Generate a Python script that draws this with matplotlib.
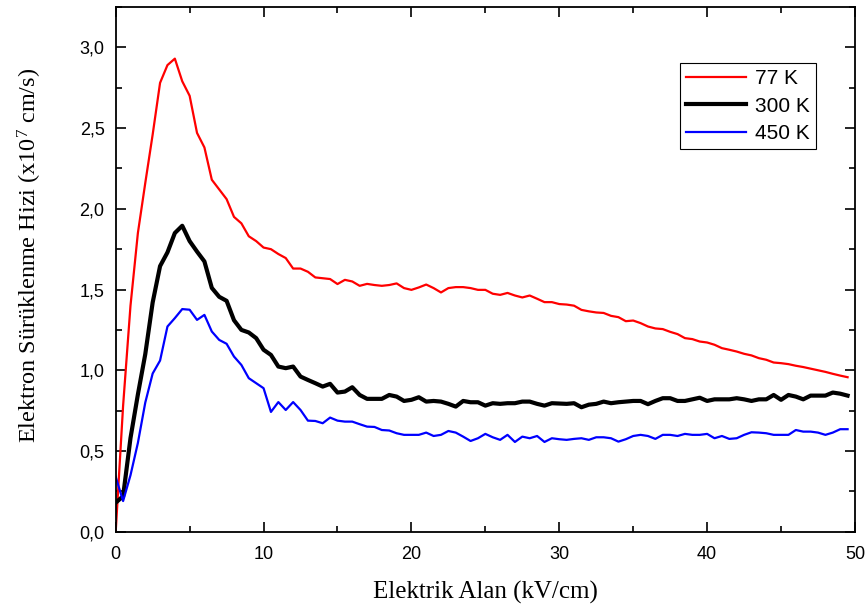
import matplotlib
matplotlib.use('Agg')
import matplotlib.pyplot as plt
from matplotlib.ticker import MultipleLocator, FuncFormatter
import numpy as np

# electric field grid (kV/cm), one sample every 0.5
field = np.arange(0, 50, 0.5)

v_77 = [
    0.00, 0.78, 1.40, 1.85, 2.16, 2.46, 2.78, 2.89, 2.93, 2.79,
    2.70, 2.47, 2.38, 2.18, 2.12, 2.06, 1.95, 1.91, 1.83, 1.80,
    1.76, 1.75, 1.72, 1.695, 1.63, 1.63, 1.61, 1.575, 1.57, 1.565,
    1.534, 1.56, 1.55, 1.523, 1.535, 1.528, 1.523, 1.528, 1.538, 1.509,
    1.498, 1.513, 1.531, 1.509, 1.482, 1.509, 1.515, 1.515, 1.509, 1.498,
    1.498, 1.474, 1.467, 1.479, 1.463, 1.451, 1.463, 1.443, 1.422, 1.422,
    1.41, 1.407, 1.40, 1.374, 1.365, 1.358, 1.355, 1.337, 1.329, 1.304,
    1.308, 1.292, 1.271, 1.259, 1.255, 1.238, 1.224, 1.199, 1.193, 1.178,
    1.172, 1.158, 1.137, 1.127, 1.116, 1.102, 1.092, 1.075, 1.065, 1.048,
    1.044, 1.038, 1.028, 1.020, 1.010, 1.000, 0.990, 0.978, 0.967, 0.957,
]

v_300 = [
    0.18, 0.22, 0.58, 0.85, 1.10, 1.42, 1.645, 1.73, 1.85, 1.895,
    1.80, 1.735, 1.674, 1.51, 1.455, 1.43, 1.31, 1.25, 1.234, 1.199,
    1.127, 1.095, 1.023, 1.013, 1.023, 0.961, 0.94, 0.92, 0.899, 0.916,
    0.862, 0.868, 0.895, 0.847, 0.823, 0.823, 0.823, 0.847, 0.837, 0.81,
    0.817, 0.833, 0.806, 0.81, 0.806, 0.792, 0.775, 0.81, 0.802, 0.802,
    0.781, 0.796, 0.792, 0.796, 0.796, 0.806, 0.806, 0.792, 0.781, 0.796,
    0.794, 0.792, 0.796, 0.771, 0.787, 0.792, 0.806, 0.796, 0.802, 0.806,
    0.81, 0.81, 0.79, 0.81, 0.827, 0.827, 0.81, 0.81, 0.82, 0.83,
    0.81, 0.82, 0.82, 0.82, 0.827, 0.82, 0.81, 0.82, 0.82, 0.847,
    0.817, 0.847, 0.837, 0.82, 0.843, 0.843, 0.843, 0.862, 0.855, 0.843,
]

v_450 = [
    0.34, 0.19, 0.35, 0.55, 0.80, 0.98, 1.06, 1.271, 1.323, 1.379,
    1.375, 1.312, 1.343, 1.24, 1.188, 1.164, 1.085, 1.033, 0.951, 0.92,
    0.889, 0.742, 0.803, 0.754, 0.803, 0.754, 0.688, 0.686, 0.672, 0.707,
    0.688, 0.682, 0.682, 0.666, 0.651, 0.649, 0.63, 0.627, 0.61, 0.60,
    0.60, 0.60, 0.614, 0.593, 0.60, 0.624, 0.614, 0.589, 0.562, 0.579,
    0.606, 0.585, 0.569, 0.60, 0.556, 0.589, 0.579, 0.593, 0.556, 0.579,
    0.573, 0.569, 0.575, 0.579, 0.569, 0.585, 0.585, 0.579, 0.558, 0.573,
    0.593, 0.60, 0.593, 0.575, 0.60, 0.60, 0.593, 0.606, 0.60, 0.60,
    0.606, 0.579, 0.593, 0.575, 0.579, 0.60, 0.616, 0.614, 0.61, 0.60,
    0.60, 0.60, 0.63, 0.62, 0.62, 0.614, 0.60, 0.614, 0.635, 0.635,
]

series_labels = ['77 K', '300 K', '450 K']

plt.rcParams['mathtext.fontset'] = 'custom'
plt.rcParams['mathtext.rm'] = 'Liberation Serif'
plt.rcParams['mathtext.it'] = 'Liberation Serif'

fig = plt.figure(figsize=(8.68, 6.07), dpi=100)
ax = fig.add_axes([0.1333, 0.124, 0.8517, 0.8645])

ax.plot(field, v_77, color='#ff0000', linewidth=1.6, label=series_labels[0])
ax.plot(field, v_300, color='black', linewidth=3.0, label=series_labels[1])
ax.plot(field, v_450, color='#0000ff', linewidth=1.6, label=series_labels[2])

ax.set_xlim(0, 50)
ax.set_ylim(0, 3.25)
ax.xaxis.set_major_locator(MultipleLocator(10))
ax.xaxis.set_minor_locator(MultipleLocator(5))
ax.yaxis.set_major_locator(MultipleLocator(0.5))
ax.yaxis.set_minor_locator(MultipleLocator(0.25))
ax.yaxis.set_major_formatter(FuncFormatter(lambda v, p: f'{v:.1f}'.replace('.', ',')))

ax.tick_params(which='both', direction='in', top=True, right=True, width=1.2)
ax.tick_params(which='major', length=7, labelsize=13)
ax.tick_params(axis='y', which='major', pad=8)
ax.tick_params(axis='x', which='major', pad=10)
ax.tick_params(which='minor', length=4.3)
for lbl in ax.get_xticklabels() + ax.get_yticklabels():
    lbl.set_family('Liberation Sans')
for sp in ax.spines.values():
    sp.set_linewidth(1.3)

ax.set_xlabel('Elektrik Alan (kV/cm)', family='Liberation Serif', fontsize=18, labelpad=13)
ax.set_ylabel('Elektron Sürüklenme Hizi (x10$^7$ cm/s)', family='Liberation Serif',
              fontsize=17.5)
ax.yaxis.set_label_coords(-0.097, 0.527)

leg = ax.legend(loc='upper right', bbox_to_anchor=(0.947, 0.893), borderaxespad=0,
                prop={'family': 'Liberation Sans', 'size': 15}, fancybox=False,
                edgecolor='black', framealpha=1, handlelength=2.9, handletextpad=0.4,
                labelspacing=0.4, borderpad=0.3)
leg.get_frame().set_linewidth(0.8)

fig.savefig('out.png', dpi=100)
